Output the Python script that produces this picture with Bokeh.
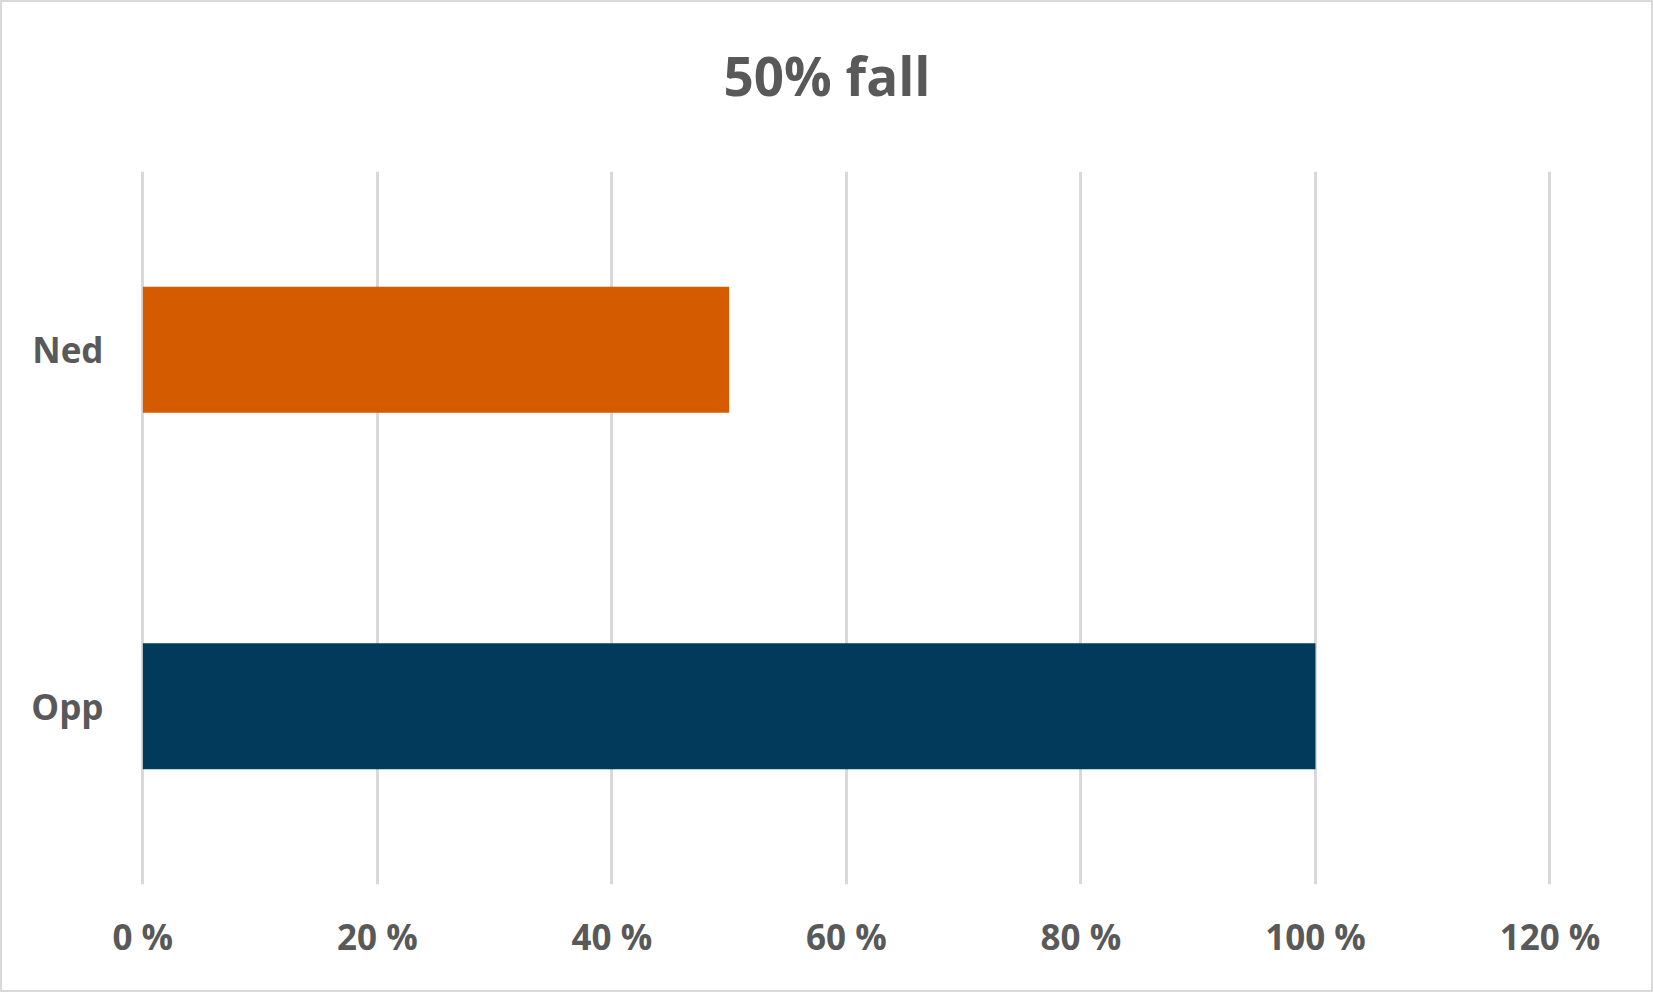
from bokeh.plotting import figure
from bokeh.models import FactorRange, Range1d, FixedTicker, ColumnDataSource, Title
from bokeh.embed import file_html
from bokeh.resources import INLINE

categories = ["Ned", "Opp"]
values = [50, 100]
colors = ["#D45B00", "#023A5B"]
ticks = [0, 20, 40, 60, 80, 100, 120]
tick_labels = {t: f"{t} %" for t in ticks}
title_text = "50% fall"

src = ColumnDataSource(dict(cat=categories, val=values, color=colors))

FONT = "Open Sans"
GRAY = "#595959"

p = figure(width=1653, height=992, output_backend="svg", toolbar_location=None,
           y_range=FactorRange(factors=["Opp", "Ned"], range_padding=0),
           x_range=Range1d(-0.2, 120.3),
           min_border_left=138, min_border_right=102, min_border_top=169, min_border_bottom=110)
p.styles = {"border": "2px solid #d9d9d9", "box-sizing": "border-box"}

p.hbar(y="cat", right="val", left=0, height=0.353, color="color", source=src, line_color=None)

spacer = Title(text=" ", text_font_size="20px", standoff=31, text_color="white")
main_title = Title(text=title_text, text_font=FONT, text_font_style="bold",
                   text_font_size="53px", text_color=GRAY, align="left",
                   offset=583, standoff=10)
p.add_layout(spacer, "above")
p.add_layout(main_title, "above")

p.outline_line_color = None
p.ygrid.grid_line_color = None
p.xgrid.grid_line_color = "#d9d9d9"
p.xgrid.grid_line_width = 3
p.xgrid.ticker = FixedTicker(ticks=ticks)

p.xaxis.ticker = FixedTicker(ticks=ticks)
p.xaxis.major_label_overrides = tick_labels
for ax in (p.xaxis, p.yaxis):
    ax.axis_line_color = None
    ax.major_tick_line_color = None
    ax.minor_tick_line_color = None
    ax.major_tick_out = 0
    ax.major_tick_in = 0
    ax.major_label_text_font = FONT
    ax.major_label_text_font_style = "bold"
    ax.major_label_text_font_size = "35px"
    ax.major_label_text_color = GRAY
p.xaxis.major_label_standoff = 28
p.yaxis.major_label_standoff = 37

open("out.html", "w").write(file_html(p, INLINE))
